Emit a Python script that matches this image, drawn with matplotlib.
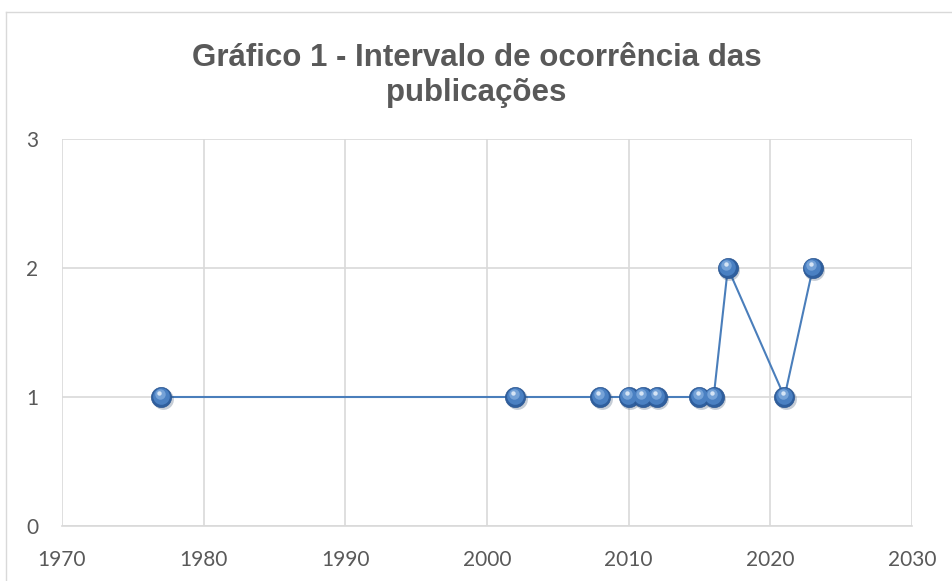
import matplotlib
matplotlib.use("Agg")
import matplotlib.pyplot as plt
from matplotlib.lines import Line2D
from matplotlib.transforms import ScaledTranslation

# data
anos = [1977, 2002, 2008, 2010, 2011, 2012, 2015, 2016, 2017, 2021, 2023]
publicacoes = [1, 1, 1, 1, 1, 1, 1, 1, 2, 1, 2]
x_ticks = [1970, 1980, 1990, 2000, 2010, 2020, 2030]
y_ticks = [0, 1, 2, 3]

titulo = ["Gráfico 1 - Intervalo de ocorrência das", "publicações"]

fig = plt.figure(figsize=(9.53, 5.81), dpi=100)
ax = fig.add_axes([62 / 953, 55 / 581, 850 / 953, 387 / 581])


def desloca(dx, dy):
    return ax.transData + ScaledTranslation(dx / 72, dy / 72, fig.dpi_scale_trans)


azul = "#4a7ebb"
ax.plot(anos, publicacoes, color=azul, lw=1.5, zorder=3)

# fake the shaded spheres with a few stacked markers
ax.plot(anos, publicacoes, ls="none", marker="o", ms=15, mfc="#1f3a5f",
        mec="none", alpha=0.25, zorder=3, transform=desloca(1, -1.5))
ax.plot(anos, publicacoes, ls="none", marker="o", ms=14.5, mfc="#2f5f9e",
        mec="#2a5590", mew=0.5, zorder=4)
ax.plot(anos, publicacoes, ls="none", marker="o", ms=12, mfc="#4a80c2",
        mec="none", zorder=5, transform=desloca(-0.4, 0.8))
ax.plot(anos, publicacoes, ls="none", marker="o", ms=7.5, mfc="#7aa6da",
        mec="none", alpha=0.9, zorder=6, transform=desloca(-1, 2.1))
ax.plot(anos, publicacoes, ls="none", marker="o", ms=3.2, mfc="#d5e4f5",
        mec="none", zorder=7, transform=desloca(-1.4, 3.1))

ax.set_xlim(1970, 2030)
ax.set_ylim(0, 3)
ax.set_xticks(x_ticks)
ax.set_yticks(y_ticks)
ax.grid(True, color="#d9d9d9", lw=1.2)
ax.set_axisbelow(True)
for s in ["top", "right", "left"]:
    ax.spines[s].set_visible(False)
ax.spines["bottom"].set_color("#d9d9d9")
ax.spines["bottom"].set_linewidth(1.2)
ax.tick_params(length=0, labelsize=15, labelcolor="#595959")
ax.tick_params(axis="x", pad=17)
ax.tick_params(axis="y", pad=17)
for lab in ax.get_xticklabels() + ax.get_yticklabels():
    lab.set_fontfamily("Lato")

# title, two lines placed by baseline
for linha, base in zip(titulo, [66, 101]):
    fig.text(0.5, 1 - base / 581, linha, ha="center", va="baseline",
             fontsize=22.5, fontweight="bold", color="#595959",
             family="Liberation Sans")

# outer chart border (only left and top edge visible)
fig.add_artist(Line2D([6 / 953, 6 / 953], [0, 1 - 12 / 581], color="#d9d9d9", lw=1))
fig.add_artist(Line2D([6 / 953, 1], [1 - 12 / 581, 1 - 12 / 581], color="#d9d9d9", lw=1))

fig.savefig("out.png", dpi=100)
